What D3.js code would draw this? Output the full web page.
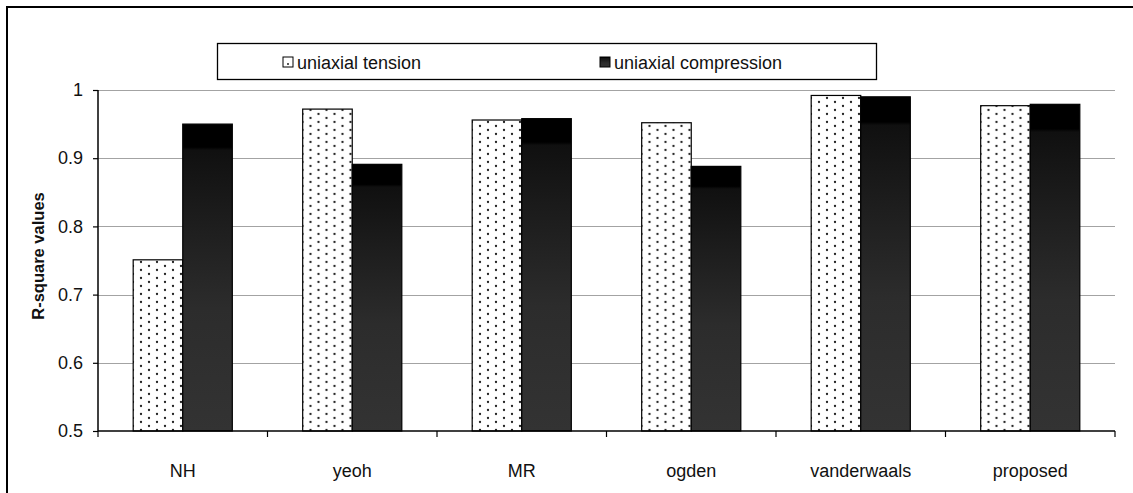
<!DOCTYPE html>
<html>
<head>
<meta charset="utf-8">
<script src="https://cdn.jsdelivr.net/npm/d3@7/dist/d3.min.js"></script>
<style>
  html, body { margin: 0; padding: 0; background: #fff; }
  svg { display: block; font-family: "Liberation Sans", Arial, sans-serif; }
</style>
</head>
<body>
<svg id="chart" width="1133" height="493"></svg>
<script>
// Model names along the x axis
const categories = ["NH", "yeoh", "MR", "ogden", "vanderwaals", "proposed"];
// Legend names of the two load cases
const seriesNames = ["uniaxial tension", "uniaxial compression"];
// R-square values for each model
const tensionValues = [0.751, 0.972, 0.956, 0.952, 0.992, 0.977];
const compressionValues = [0.950, 0.891, 0.958, 0.888, 0.990, 0.979];
// Y-axis ticks
const yTicks = [0.5, 0.6, 0.7, 0.8, 0.9, 1.0];
const yTickLabels = ["0.5", "0.6", "0.7", "0.8", "0.9", "1"];

const svg = d3.select("#chart");
const W = 1133, H = 493;
const plot = { left: 98, right: 1115, top: 90, bottom: 431 };

svg.append("rect").attr("width", W).attr("height", H).attr("fill", "#fff");

const defs = svg.append("defs");
// Staggered dot fill for the tension bars
const pat = defs.append("pattern")
  .attr("id", "dots").attr("patternUnits", "userSpaceOnUse")
  .attr("width", 16).attr("height", 8);
pat.append("rect").attr("width", 16).attr("height", 8).attr("fill", "#fff");
pat.append("circle").attr("cx", 3).attr("cy", 2).attr("r", 1.15).attr("fill", "#222");
pat.append("circle").attr("cx", 11).attr("cy", 6).attr("r", 1.15).attr("fill", "#222");

// Dark vertical gradient for the compression bars
const grad = defs.append("linearGradient")
  .attr("id", "darkGrad").attr("x1", 0).attr("y1", 0).attr("x2", 0).attr("y2", 1);
[[0, "#000"], [0.075, "#000"], [0.085, "#101010"], [0.3, "#1c1c1c"], [0.6, "#2c2c2c"], [1, "#333"]]
  .forEach(([o, c]) => grad.append("stop").attr("offset", o).attr("stop-color", c));

// Outer chart frame
svg.append("rect").attr("x", 7).attr("y", 7).attr("width", W + 20).attr("height", H + 20)
  .attr("fill", "none").attr("stroke", "#000").attr("stroke-width", 2);

const x = d3.scaleBand().domain(categories).range([plot.left, plot.right]).padding(0);
const xSub = d3.scaleBand().domain(seriesNames).range([0, x.bandwidth()])
  .paddingInner(0).paddingOuter(0.71);
const y = d3.scaleLinear().domain([0.5, 1]).range([plot.bottom, plot.top]);

// Horizontal gridlines
svg.append("g").selectAll("line").data(yTicks.filter(t => t > 0.5)).join("line")
  .attr("x1", plot.left).attr("x2", plot.right)
  .attr("y1", d => Math.round(y(d)) + 0.5).attr("y2", d => Math.round(y(d)) + 0.5)
  .attr("stroke", "#a3a3a3").attr("stroke-width", 1);

// Bars
const groups = svg.append("g").selectAll("g").data(categories).join("g")
  .attr("transform", d => `translate(${x(d)},0)`);

groups.append("rect")
  .attr("x", xSub(seriesNames[0]))
  .attr("y", (d, i) => y(tensionValues[i]))
  .attr("width", xSub.bandwidth())
  .attr("height", (d, i) => y(0.5) - y(tensionValues[i]))
  .attr("fill", "url(#dots)").attr("stroke", "#000").attr("stroke-width", 1.2);

groups.append("rect")
  .attr("x", xSub(seriesNames[1]))
  .attr("y", (d, i) => y(compressionValues[i]))
  .attr("width", xSub.bandwidth())
  .attr("height", (d, i) => y(0.5) - y(compressionValues[i]))
  .attr("fill", "url(#darkGrad)").attr("stroke", "#000").attr("stroke-width", 1.2);

// Y axis
const yAxis = d3.axisLeft(y).tickValues(yTicks)
  .tickFormat((d, i) => yTickLabels[i]).tickSize(5).tickPadding(10);
const gy = svg.append("g").attr("transform", `translate(${plot.left},0)`).call(yAxis);
gy.select(".domain").attr("stroke", "#000").attr("stroke-width", 1.5).attr("d", `M0,${plot.top}V${plot.bottom}`);
gy.selectAll(".tick line").attr("stroke", "#000").attr("stroke-width", 1.2);
gy.selectAll(".tick text").attr("font-size", 18).attr("fill", "#111")
  .attr("font-family", "'Liberation Sans', Arial, sans-serif");

// X axis with ticks at category boundaries
const gx = svg.append("g").attr("transform", `translate(0,${plot.bottom})`);
gx.append("line").attr("x1", plot.left).attr("x2", plot.right).attr("y1", 0).attr("y2", 0)
  .attr("stroke", "#000").attr("stroke-width", 1.5);
const bounds = categories.map(c => x(c)).concat([x(categories[categories.length - 1]) + x.step()]);
gx.selectAll("line.tk").data(bounds).join("line").attr("class", "tk")
  .attr("x1", d => d).attr("x2", d => d).attr("y1", 0).attr("y2", 6)
  .attr("stroke", "#000").attr("stroke-width", 1.2);
gx.selectAll("text").data(categories).join("text")
  .attr("x", d => x(d) + x.bandwidth() / 2).attr("y", 46)
  .attr("text-anchor", "middle").attr("font-size", 18).attr("fill", "#111")
  .text(d => d);

// Y axis title
svg.append("text")
  .attr("transform", "translate(44,256) rotate(-90)")
  .attr("text-anchor", "middle").attr("font-size", 16.5).attr("font-weight", "bold")
  .attr("fill", "#111").text("R-square values");

// Legend
const lg = svg.append("g");
lg.append("rect").attr("x", 217.5).attr("y", 43.5).attr("width", 659).attr("height", 36)
  .attr("fill", "#fff").attr("stroke", "#000").attr("stroke-width", 1.3);
const legendX = [283, 600];
const items = lg.selectAll("g").data(seriesNames).join("g")
  .attr("transform", (d, i) => `translate(${legendX[i]},62)`);
items.append("rect").attr("x", 0).attr("y", -5).attr("width", 10).attr("height", 10)
  .attr("fill", (d, i) => i === 0 ? "#fff" : "url(#darkGrad)")
  .attr("stroke", "#000").attr("stroke-width", 1);
items.filter((d, i) => i === 0).append("circle")
  .attr("cx", 5).attr("cy", 2).attr("r", 1).attr("fill", "#222");
items.append("text").attr("x", 14).attr("y", 6.5).attr("font-size", 18).attr("fill", "#111")
  .text(d => d);
</script>
</body>
</html>
